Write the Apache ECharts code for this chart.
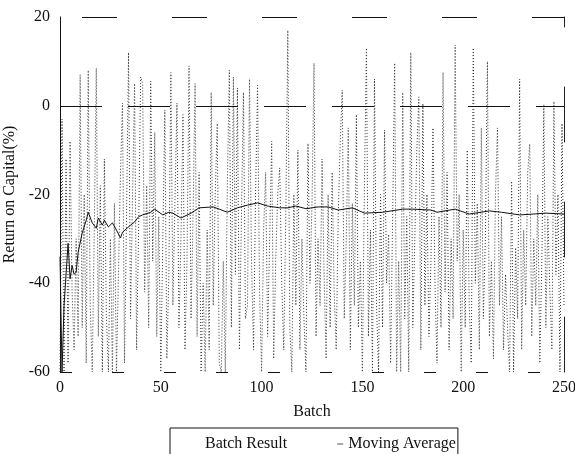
<!DOCTYPE html>
<html>
<head>
<meta charset="utf-8">
<script src="https://cdn.jsdelivr.net/npm/echarts@6/dist/echarts.min.js"></script>
<style>
  html, body { margin: 0; padding: 0; background: #fff; }
  #chart { width: 575px; height: 454px; }
</style>
</head>
<body>
<div id="chart"></div>
<script>
// batch result per batch (0..250), clipped to [-60, 20]
const batchResult = [
  -60, -3, -60, -12, -58, -8, -42, -55, -30, -52,
  7, -50, -20, -58, 8, -45, -60, -28, 8.5, -52,
  -18, -60, -12, -47, -60, -30, -60, -22, -60, -38,
  -15, 0.6, -58, -25, 12, -48, -20, 5, -55, -28,
  6.5, 5, -42, -18, -50, 5.5, -35, -6, -52, -25,
  -60, -30, -1, -57, -38, 7.5, -45, -22, 0.6, -50,
  -30, -2, -55, -35, 9, -48, -25, 5, -52, -15,
  -60, -40, -60, -28, -55, 3, -45, -20, -4, -58,
  -60, -35, -60, -18, 8, -50, 6.5, -38, 4, -55,
  -25, 3, -48, -45, 6, -35, -55, -20, 4.6, -42,
  -60, -28, -15, -52, -30, -8, -57, -35, -20, -14,
  -40, -55, -25, 17, -50, -60, -20, -45, -10, -55,
  -30, -48, -60, -8.5, -40, -22, 9.6, -52, -30, -45,
  -12, -38, -57, -20, -50, -15, -42, -55, -25, -8,
  3.5, -48, -30, -5, -55, -22, -45, -2, -50, -35,
  -60, -18, 13, -52, -28, -60, 6, -45, -60, -20,
  -50, -5.5, -40, -29, -58, -25, 9.6, -60, -35, -60,
  3, -48, -25, -60, 12, -50, -30, -10, 2, -55,
  0.5, -45, -20, -52, -35, -5, -40, -58, -25, -50,
  7.5, -42, -15, -55, -30, -48, 13.7, -35, -20, -60,
  -28, -50, -10, -45, -58, 13, -40, -22, -55, -5,
  -48, -30, 10, -52, -35, -57, -20, -5, -45, -25,
  -55, -38, -50, -60, -17, -60, -32, -48, 6, -55,
  -28, -45, -15, -8.6, -52, -30, -45, -20, -58, -35,
  0.3, -50, -25, -42, -55, 1, -38, -20, -60, -4,
  -45
];

// moving average, read at the batches where it bends
const maBatch = [0, 1, 2, 4, 5, 6, 7, 8, 9, 11, 13, 14, 16, 18, 19, 21, 22, 24, 26, 28,
  30, 31, 35, 37, 39, 41, 45, 47, 51, 54, 56, 60, 65, 69, 76, 79, 83, 88, 93, 98,
  103, 109, 113, 117, 122, 128, 133, 138, 145, 151, 160, 170, 175, 184, 187, 196, 203, 213, 219, 228,
  235, 241, 250];
const maValue = [-34, -60, -45, -31, -39, -36, -38, -37.5, -33, -28.7, -25.8, -24, -26.4, -27.6, -25.3, -26.9, -25.8, -27.3, -26.4, -28,
  -29.8, -28.5, -26.9, -26.2, -25, -24.6, -24, -23.3, -24.6, -24, -24.2, -25.3, -24.2, -23, -22.8, -23.3, -24, -23, -22.4, -21.9,
  -22.6, -23, -23, -22.6, -23.2, -22.8, -22.8, -23.5, -23, -24.2, -24, -23.3, -23.3, -23.5, -24, -23.3, -24.4, -23.7, -24, -24.6,
  -24.4, -24.2, -24.4];

const xTicks = [0, 50, 100, 150, 200, 250];
const yTicks = [-60, -40, -20, 0, 20];

const FONT = "'Liberation Serif', 'Times New Roman', serif";

const chart = echarts.init(document.getElementById('chart'));

const option = {
  backgroundColor: '#fff',
  animation: false,
  grid: { left: 60, right: 11, top: 17, bottom: 82, outerBoundsMode: 'none', containLabel: false },
  legend: {
    left: 170,
    top: 428,
    padding: [8, 2, 14, 24],
    borderColor: '#111',
    borderWidth: 1,
    itemWidth: 6,
    itemHeight: 1,
    itemGap: 50,
    textStyle: { fontFamily: FONT, fontSize: 16, color: '#111' },
    data: [
      { name: 'Batch Result', icon: 'rect', itemStyle: { color: '#bbb', opacity: 0 } },
      { name: 'Moving Average', icon: 'rect', itemStyle: { color: '#555' } }
    ]
  },
  xAxis: {
    type: 'value',
    min: xTicks[0],
    max: xTicks[xTicks.length - 1],
    interval: 50,
    name: 'Batch',
    nameLocation: 'middle',
    nameGap: 32,
    nameTextStyle: { fontFamily: FONT, fontSize: 16, color: '#111' },
    axisLine: { show: false },
    axisTick: { show: false },
    splitLine: { show: false },
    axisLabel: { fontFamily: FONT, fontSize: 16, color: '#111', margin: 8 }
  },
  yAxis: [
    {
      type: 'value',
      min: yTicks[0],
      max: yTicks[yTicks.length - 1],
      interval: 20,
      name: 'Return on Capital(%)',
      nameLocation: 'middle',
      nameGap: 4,
      nameTextStyle: { fontFamily: FONT, fontSize: 16, color: '#111' },
      axisLine: { show: true, lineStyle: { color: '#111', width: 1 } },
      axisTick: { show: false },
      splitLine: { show: false },
      axisLabel: { fontFamily: FONT, fontSize: 16, color: '#111', margin: 10 }
    },
    {
      type: 'value',
      position: 'right',
      min: yTicks[0],
      max: yTicks[yTicks.length - 1],
      interval: 20,
      axisLine: { show: true, lineStyle: { color: '#222', width: 1, type: [55, 60] } },
      axisTick: { show: false },
      axisLabel: { show: false },
      splitLine: { show: false }
    }
  ],
  series: [
    {
      name: 'Batch Result',
      type: 'line',
      data: batchResult.map((v, i) => [i, v]),
      symbol: 'none',
      lineStyle: { color: '#333', width: 1, type: [1, 2] },
      itemStyle: { color: '#333' },
      markLine: {
        silent: true,
        symbol: 'none',
        label: { show: false },
        data: [
          { yAxis: 0, lineStyle: { color: '#111', width: 1, type: [42, 26] } },
          { yAxis: 20, lineStyle: { color: '#111', width: 1, type: [35, 55], dashOffset: 68 } },
          { yAxis: -60, lineStyle: { color: '#111', width: 1, type: [12, 40] } }
        ]
      },
      z: 2
    },
    {
      name: 'Moving Average',
      type: 'line',
      data: maBatch.map((b, i) => [b, maValue[i]]),
      symbol: 'none',
      lineStyle: { color: '#111', width: 1 },
      itemStyle: { color: '#111' },
      z: 3
    }
  ]
};

chart.setOption(option);
</script>
</body>
</html>
